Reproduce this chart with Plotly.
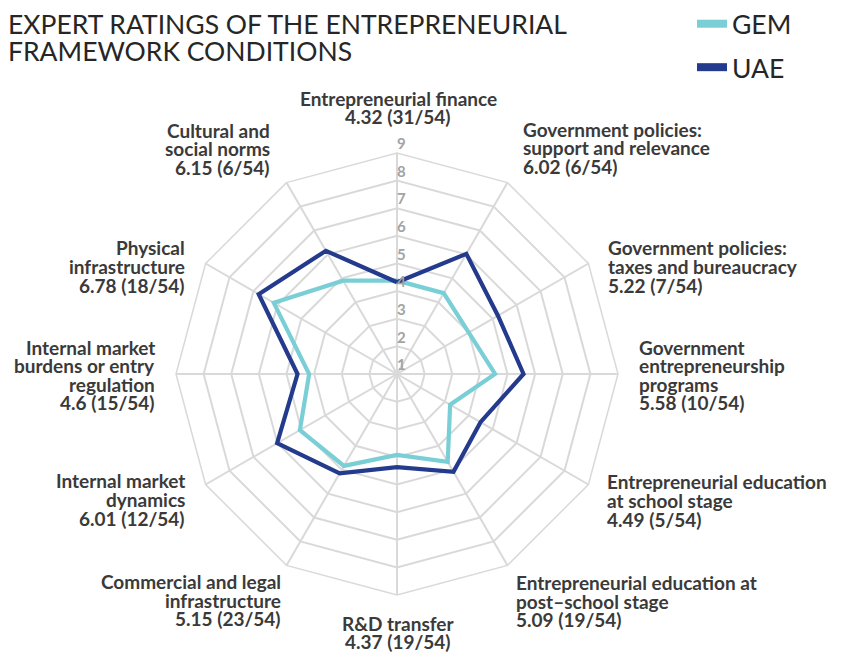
import math
import plotly.graph_objects as go

# Entrepreneurial framework conditions, clockwise from the top
categories = [
    "Entrepreneurial finance",
    "Government policies:<br>support and relevance",
    "Government policies:<br>taxes and bureaucracy",
    "Government<br>entrepreneurship<br>programs",
    "Entrepreneurial education<br>at school stage",
    "Entrepreneurial education at<br>post–school stage",
    "R&D transfer",
    "Commercial and legal<br>infrastructure",
    "Internal market<br>dynamics",
    "Internal market<br>burdens or entry<br>regulation",
    "Physical<br>infrastructure",
    "Cultural and<br>social norms",
]
uae_values = [4.32, 6.02, 5.22, 5.58, 4.49, 5.09, 4.37, 5.15, 6.01, 4.6, 6.78, 6.15]
uae_ranks = ["31/54", "6/54", "7/54", "10/54", "5/54", "19/54",
             "19/54", "23/54", "12/54", "15/54", "18/54", "6/54"]
gem_values = [4.38, 4.38, 4.0, 4.55, 3.22, 4.67, 3.93, 4.84, 5.06, 4.18, 6.15, 4.9]
radial_ticks = [1, 2, 3, 4, 5, 6, 7, 8, 9]
# the scale starts at 1; the tiny margin keeps the "1" label at the centre drawable
r_min, r_max = 0.999, 9

GEM_COLOR = "#7acfd6"
UAE_COLOR = "#243a8c"
GRID = "#d9d9d9"
TEXT = "#3a3a3a"
TITLE = "#262626"
TICK = "#a3a3a3"

W, H = 843, 653
cx, cy, R = 397, 374, 221   # polar centre and outer radius in pixels

fig = go.Figure()


def closed(seq):
    return list(seq) + [seq[0]]


fig.add_trace(go.Scatterpolar(
    r=closed(gem_values), theta=closed(categories), mode="lines",
    line=dict(color=GEM_COLOR, width=4.2), name="GEM", showlegend=False,
))
fig.add_trace(go.Scatterpolar(
    r=closed(uae_values), theta=closed(categories), mode="lines",
    line=dict(color=UAE_COLOR, width=4.2), name="UAE", showlegend=False,
))
# radial scale labels, set just above each ring along the top spoke
fig.add_trace(go.Scatterpolar(
    r=radial_ticks, theta=[categories[0]] * len(radial_ticks), mode="text",
    text=[str(t) for t in radial_ticks], textposition="top right",
    textfont=dict(family="Lato", size=15, color=TICK, weight="bold"),
    cliponaxis=False, showlegend=False, hoverinfo="skip",
))
# legend entries with heavier swatches
for name, color in [("GEM", GEM_COLOR), ("UAE", UAE_COLOR)]:
    fig.add_trace(go.Scatterpolar(
        r=[None], theta=[categories[0]], mode="lines", name=name, legendgroup=name,
        line=dict(color=color, width=8),
    ))

# category labels: each line set separately to keep the tight line spacing
# (xanchor, vertical alignment of the block, offset from the outer vertex)
label_place = [
    ("center", "bottom", 1, -27),
    ("left", "bottom", 15, -7),
    ("left", "middle", 20, 3),
    ("left", "middle", 21, 1),
    ("left", "middle", 19, 16),
    ("left", "top", 8, 8),
    ("center", "top", 1, 19),
    ("right", "top", -6, 7),
    ("right", "middle", -21, 15),
    ("right", "middle", -21, 1),
    ("right", "middle", -21, 3),
    ("right", "bottom", -16, -6),
]
LINE = 18.6
LBL_SIZE = 19
annotations = []
n_cat = len(categories)
for i, (cat, val, rk) in enumerate(zip(categories, uae_values, uae_ranks)):
    ang = 2 * math.pi * i / n_cat
    vx = cx + R * math.sin(ang)
    vy = cy - R * math.cos(ang)
    xa, va, dx, dy = label_place[i]
    ax_, ay_ = vx + dx, vy + dy
    lines = cat.split("<br>") + [f"{val:g} ({rk})"]
    n = len(lines)
    if va == "top":
        first = ay_ + LINE / 2
    elif va == "bottom":
        first = ay_ - LINE / 2 - (n - 1) * LINE
    else:
        first = ay_ - (n - 1) * LINE / 2
    for j, txt in enumerate(lines):
        annotations.append(dict(
            text=txt, xref="paper", yref="paper",
            x=ax_ / W, y=1 - (first + j * LINE) / H,
            xanchor=xa, yanchor="middle", showarrow=False,
            borderpad=0, borderwidth=0,
            font=dict(family="Lato", size=LBL_SIZE, color=TEXT, weight="bold"),
        ))

TITLE_LINE = 26.5
for k, txt in enumerate(["EXPERT RATINGS OF THE ENTREPRENEURIAL", "FRAMEWORK CONDITIONS"]):
    annotations.append(dict(
        text=txt, xref="paper", yref="paper",
        x=8 / W, y=1 - (24 + TITLE_LINE * k) / H, xanchor="left", yanchor="middle",
        showarrow=False, borderpad=0, borderwidth=0,
        font=dict(family="Lato", size=26.5, color=TITLE),
    ))

fig.update_layout(
    width=W, height=H,
    margin=dict(l=0, r=0, t=0, b=0),
    paper_bgcolor="white",
    plot_bgcolor="white",
    font=dict(family="Lato", color=TEXT),
    polar=dict(
        domain=dict(x=[(cx - R) / W, (cx + R) / W],
                    y=[(H - cy - R) / H, (H - cy + R) / H]),
        bgcolor="white",
        gridshape="linear",
        angularaxis=dict(
            rotation=90, direction="clockwise",
            showline=True, linecolor=GRID, linewidth=1.5,
            gridcolor=GRID, gridwidth=1.5,
            showticklabels=False, ticks="",
        ),
        radialaxis=dict(
            range=[r_min, r_max], tickvals=radial_ticks, angle=90,
            showline=False, ticks="", showticklabels=False,
            gridcolor=GRID, gridwidth=1.5,
        ),
    ),
    legend=dict(
        x=692 / W, y=1, xanchor="left", yanchor="top",
        font=dict(family="Lato", size=26.5, color=TITLE),
        tracegroupgap=6, bgcolor="rgba(0,0,0,0)",
    ),
    annotations=annotations,
)

fig.write_html("out.html")
